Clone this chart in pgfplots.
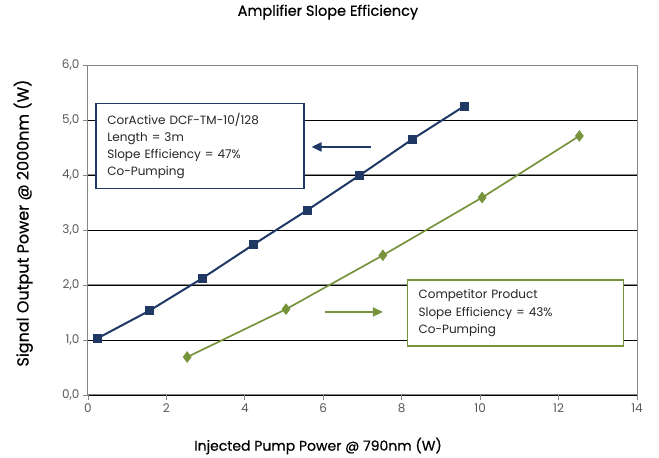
\documentclass[border=0pt]{standalone}
\usepackage{fontspec}
\setmainfont{Poppins}
\newfontfamily\semibold{Poppins}[FakeBold=0.6]
\usepackage{pgfplots}
\pgfplotsset{compat=1.18}
\usetikzlibrary{arrows.meta}
\definecolor{navy}{HTML}{1F3864}
\definecolor{olive}{HTML}{77933C}
\definecolor{framegray}{HTML}{868686}
\begin{document}
\begin{tikzpicture}
\begin{axis}[
  scale only axis, width=549pt, height=330pt,
  xmin=0, xmax=14, ymin=0, ymax=6,
  xtick={0,2,...,14}, ytick={0,1,...,6},
  axis line style={framegray, line width=1pt},
  tick style={framegray, line width=0.8pt},
  tick align=outside, major tick length=5pt,
  tick pos=left,
  clip=false,
  /pgf/number format/assume math mode=true,
  yticklabel style={/pgf/number format/.cd, fixed, fixed zerofill, precision=1, use comma},
  ticklabel style={font=\fontsize{12}{14}\selectfont, text=black!65},
  ymajorgrids, grid style={black, line width=0.5pt},
  extra y ticks={2,4}, extra y tick labels={},
  extra y tick style={major grid style={black!45, line width=1pt}},
  title={Amplifier Slope Efficiency},
  title style={at={(axis description cs:0.437,1.142)}, anchor=center, font=\semibold\fontsize{14.5}{16}\selectfont},
  xlabel={Injected Pump Power @ 790nm (W)},
  xlabel style={at={(axis description cs:0.419,-0.1545)}, anchor=center, font=\semibold\fontsize{14}{16}\selectfont},
  ylabel={Signal Output Power @ 2000nm (W)},
  ylabel style={at={(axis description cs:-0.118,0.521)}, anchor=center, font=\semibold\fontsize{16}{18}\selectfont},
]
\addplot[navy, line width=2pt, mark=square*, mark size=3.5pt, mark options={solid}]
  coordinates {(0.24,1.03) (1.56,1.53) (2.91,2.12) (4.23,2.74) (5.59,3.36) (6.92,3.99) (8.27,4.65) (9.59,5.25)};
\addplot[olive, line width=1.7pt, mark=diamond*, mark size=4.5pt, mark options={solid}]
  coordinates {(2.53,0.69) (5.05,1.56) (7.52,2.54) (10.05,3.59) (12.53,4.71)};
\draw[navy, line width=2pt, -{Triangle[length=10pt,width=9pt]}] (axis cs:7.21,4.51) -- (axis cs:5.70,4.51);
\draw[olive, line width=2pt, -{Triangle[length=10pt,width=9pt]}] (axis cs:6.05,1.51) -- (axis cs:7.52,1.51);
\node[draw=navy, line width=1.5pt, fill=white, anchor=north west, minimum width=208pt, minimum height=85pt,
  text width=185pt, inner xsep=11pt, align=left, font=\fontsize{12}{17}\selectfont, text=black!85]
  at (axis cs:0.18,5.31) {CorActive DCF-TM-10/128\\Length = 3m\\Slope Efficiency = 47\%\\Co-Pumping};
\node[draw=olive, line width=1.5pt, fill=white, anchor=north west, minimum width=216pt, minimum height=66pt,
  text width=194pt, inner xsep=11pt, align=left, font=\fontsize{12}{17.5}\selectfont, text=black!85]
  at (axis cs:8.13,2.10) {Competitor Product\\Slope Efficiency = 43\%\\Co-Pumping};
\end{axis}
\path ([xshift=-88pt,yshift=-62pt]current axis.south west) rectangle ([xshift=22pt,yshift=65pt]current axis.north east);
\end{tikzpicture}
\end{document}
